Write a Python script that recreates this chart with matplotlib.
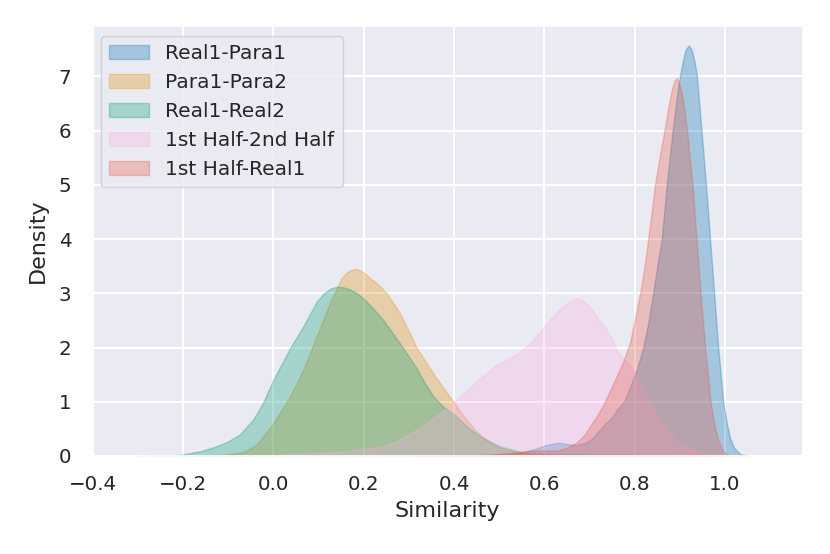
import matplotlib
matplotlib.use("Agg")
import matplotlib.pyplot as plt
import seaborn as sns
from matplotlib.patches import Patch

# density curves (x = similarity, y = density)
real1_para1_x = [0.30, 0.40, 0.47, 0.52, 0.553, 0.58, 0.60, 0.615, 0.627, 0.64, 0.655, 0.672, 0.69, 0.705,
                 0.716, 0.73, 0.75, 0.76, 0.778, 0.79, 0.805, 0.819, 0.83, 0.841, 0.85, 0.86, 0.871, 0.884,
                 0.893, 0.90, 0.907, 0.913, 0.92, 0.926, 0.932, 0.938, 0.948, 0.958, 0.967, 0.976, 0.985,
                 0.996, 1.004, 1.011, 1.02, 1.033, 1.05]
real1_para1_y = [0.0, 0.01, 0.02, 0.04, 0.07, 0.13, 0.19, 0.22, 0.24, 0.235, 0.215, 0.20, 0.24, 0.32,
                 0.42, 0.55, 0.72, 0.85, 1.02, 1.28, 1.6, 2.0, 2.45, 3.0, 3.5, 4.0, 5.0, 6.0,
                 6.6, 7.0, 7.3, 7.5, 7.57, 7.5, 7.3, 7.0, 6.0, 5.0, 4.0, 3.0, 2.0,
                 1.0, 0.6, 0.34, 0.15, 0.04, 0.0]

para1_para2_x = [-0.20, -0.126, -0.10, -0.067, -0.037, 0.0, 0.037, 0.066, 0.096, 0.125, 0.151, 0.163, 0.175,
                 0.184, 0.193, 0.20, 0.214, 0.23, 0.251, 0.28, 0.30, 0.317, 0.34, 0.36, 0.39, 0.42, 0.45,
                 0.48, 0.51, 0.55, 0.60, 0.70]
para1_para2_y = [0.0, 0.01, 0.03, 0.07, 0.21, 0.61, 1.10, 1.59, 2.21, 2.82, 3.28, 3.39, 3.44,
                 3.45, 3.42, 3.38, 3.28, 3.18, 3.0, 2.64, 2.3, 2.0, 1.7, 1.45, 1.1, 0.75, 0.45,
                 0.25, 0.13, 0.05, 0.015, 0.0]

real1_real2_x = [-0.30, -0.22, -0.20, -0.16, -0.126, -0.10, -0.074, -0.045, -0.023, 0.0, 0.037, 0.066, 0.096,
                 0.112, 0.125, 0.135, 0.144, 0.155, 0.17, 0.185, 0.199, 0.22, 0.243, 0.28, 0.317, 0.335, 0.354,
                 0.375, 0.40, 0.435, 0.46, 0.50, 0.55, 0.60, 0.70, 0.80, 0.90, 1.0]
real1_real2_y = [0.0, 0.01, 0.03, 0.09, 0.18, 0.27, 0.40, 0.67, 0.98, 1.41, 1.99, 2.39, 2.85,
                 3.0, 3.08, 3.11, 3.12, 3.11, 3.07, 3.0, 2.91, 2.73, 2.51, 2.08, 1.62, 1.35, 1.10,
                 0.92, 0.76, 0.50, 0.35, 0.18, 0.07, 0.04, 0.03, 0.02, 0.01, 0.0]

half_half_x = [-0.05, 0.0, 0.05, 0.10, 0.17, 0.243, 0.28, 0.317, 0.347, 0.37, 0.391, 0.42, 0.442, 0.465,
               0.479, 0.50, 0.523, 0.545, 0.568, 0.59, 0.605, 0.625, 0.642, 0.655, 0.665, 0.675, 0.685,
               0.695, 0.705, 0.715, 0.731, 0.75, 0.76, 0.796, 0.815, 0.833, 0.85, 0.871, 0.89, 0.908,
               0.945, 0.98, 1.02]
half_half_y = [0.0, 0.02, 0.04, 0.06, 0.09, 0.18, 0.30, 0.49, 0.66, 0.80, 0.93, 1.15, 1.32, 1.48,
               1.59, 1.70, 1.81, 1.92, 2.08, 2.28, 2.45, 2.63, 2.76, 2.84, 2.89, 2.90, 2.87,
               2.80, 2.70, 2.58, 2.4, 2.17, 1.95, 1.59, 1.28, 0.98, 0.75, 0.49, 0.30, 0.18,
               0.06, 0.02, 0.0]

half_real1_x = [0.30, 0.40, 0.47, 0.52, 0.57, 0.60, 0.627, 0.65, 0.672, 0.69, 0.701, 0.715, 0.731, 0.745,
                0.76, 0.775, 0.79, 0.80, 0.812, 0.822, 0.83, 0.845, 0.857, 0.867, 0.875, 0.882, 0.888,
                0.893, 0.898, 0.904, 0.91, 0.916, 0.928, 0.937, 0.946, 0.956, 0.968, 0.977, 0.985, 0.995,
                1.004, 1.02]
half_real1_y = [0.0, 0.01, 0.02, 0.05, 0.10, 0.10, 0.10, 0.15, 0.25, 0.40, 0.55, 0.72, 0.95, 1.2,
                1.47, 1.75, 2.1, 2.5, 3.0, 3.5, 4.0, 5.0, 5.6, 6.05, 6.45, 6.75, 6.92,
                6.97, 6.9, 6.7, 6.4, 6.0, 5.0, 4.0, 3.0, 2.0, 1.0, 0.55, 0.3, 0.1,
                0.02, 0.0]

labels = ["Real1-Para1", "Para1-Para2", "Real1-Real2", "1st Half-2nd Half", "1st Half-Real1"]
colors = ["#0173b2", "#de8f05", "#029e73", "#fbafe4", "#e8553f"]
series = [(real1_para1_x, real1_para1_y), (para1_para2_x, para1_para2_y),
          (real1_real2_x, real1_real2_y), (half_half_x, half_half_y),
          (half_real1_x, half_real1_y)]

sns.set_theme(style="darkgrid")
plt.rcParams["font.family"] = ["DejaVu Sans"]
plt.rcParams["grid.linewidth"] = 1.5

fig = plt.figure(figsize=(8.3, 5.54), dpi=100)
ax = fig.add_axes([0.1096, 0.177, 0.858, 0.776])

for (x, y), c in zip(series, colors):
    ax.fill_between(x, y, 0, facecolor=c, edgecolor=c, alpha=0.3, linewidth=1.0)

handles = [Patch(facecolor=c, edgecolor=c, alpha=0.3, linewidth=1.0, label=l)
           for c, l in zip(colors, labels)]
ax.legend(handles=handles, loc="upper left", fontsize=14.5, framealpha=0.8)

ax.set_xlim(-0.404, 1.173)
ax.set_ylim(0, 7.93)
ax.set_xticks([-0.4, -0.2, 0.0, 0.2, 0.4, 0.6, 0.8, 1.0])
ax.set_yticks(range(8))
ax.tick_params(axis="both", labelsize=14.3, length=0, pad=14)
ax.set_xlabel("Similarity", fontsize=16, labelpad=5)
ax.set_ylabel("Density", fontsize=16, labelpad=8)

fig.savefig("out.png", dpi=100)
